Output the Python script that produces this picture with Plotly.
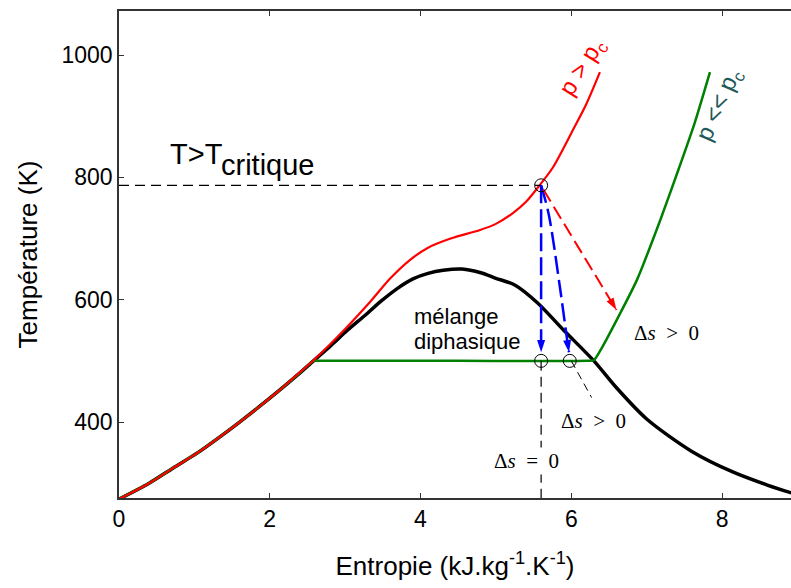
import plotly.graph_objects as go

# ---------------- data ----------------
# saturation dome (black)
s_dome = [0, 0.4, 0.72, 1.045, 1.307, 1.6, 1.86, 2.11, 2.35, 2.58, 2.81, 3.03, 3.27, 3.48,
          3.7, 3.9, 4.1, 4.3, 4.55, 4.8, 5.0, 5.25, 5.55, 5.9, 6.3, 6.6, 7.0, 7.6, 8.15, 8.6, 8.95]
T_dome = [274, 300, 325, 350, 373, 400, 425, 450, 475, 500, 525, 550, 575, 598,
          619, 634, 643, 648, 650, 644, 635, 624, 595, 550, 500, 456, 405, 352, 318, 297, 283]

# supercritical isobar p > pc (red)
s_red = [0, 0.4, 0.72, 1.045, 1.307, 1.6, 1.86, 2.11, 2.35, 2.6, 3.0, 3.3, 3.6, 3.85,
         4.1, 4.4, 4.79, 5.0, 5.23, 5.4, 5.58, 5.76, 6.02, 6.2, 6.38]
T_red = [274, 300, 325, 350, 373, 400, 425, 450, 476, 503, 552, 592, 635, 664,
         685, 700, 714, 724, 742, 760, 787, 817, 877, 920, 972]

# subcritical isobar p << pc (green)
s_grn = [0, 0.4, 0.72, 1.045, 1.307, 1.6, 1.86, 2.11, 2.35, 2.58, 2.66, 4.5, 6.22, 6.3,
         6.4, 6.65, 6.87, 7.18, 7.42, 7.64, 7.84]
T_grn = [274, 300, 325, 350, 373, 400, 425, 450, 475, 500, 500, 500, 500, 501,
         520, 578, 632, 730, 812, 890, 972]

# reference dashed lines
s_hdash = [0, 5.6]
T_hdash = [787, 787]
s_vdash = [5.6, 5.6]
T_vdash = [500, 270]
s_ddash = [6.0, 6.27]
T_ddash = [500, 440]

# expansion paths (arrows)
s_blue1 = [5.6, 5.6]
T_blue1 = [787, 514]
s_blue2 = [5.6, 5.7, 5.85, 5.95, 5.97]
T_blue2 = [787, 740, 620, 530, 514]
s_redarr = [5.63, 6.6]
T_redarr = [780, 583]

# state points
s_pts = [5.6, 5.6, 5.98]
T_pts = [787, 500, 500]

x_ticks = [0, 2, 4, 6, 8]
y_ticks = [400, 600, 800, 1000]

FONT = "Liberation Sans, Arial, sans-serif"
MATH = "Liberation Serif, Times New Roman, serif"

fig = go.Figure()

fig.add_trace(go.Scatter(x=s_dome, y=T_dome, mode="lines",
                         line=dict(color="black", width=3.5, shape="spline", smoothing=0.8)))
fig.add_trace(go.Scatter(x=s_grn, y=T_grn, mode="lines",
                         line=dict(color="#008000", width=2.5, shape="spline", smoothing=0.6)))
fig.add_trace(go.Scatter(x=s_red, y=T_red, mode="lines",
                         line=dict(color="#ff0000", width=2.2, shape="spline", smoothing=0.8)))

fig.add_trace(go.Scatter(x=s_hdash, y=T_hdash, mode="lines",
                         line=dict(color="black", width=1.2, dash="10px,6px")))
fig.add_trace(go.Scatter(x=s_vdash, y=T_vdash, mode="lines",
                         line=dict(color="black", width=1.2, dash="10px,6px")))
fig.add_trace(go.Scatter(x=s_ddash, y=T_ddash, mode="lines",
                         line=dict(color="black", width=1, dash="8px,5px")))


def arrow_trace(xs, ys, color, width, dash):
    n = len(xs)
    return go.Scatter(x=xs, y=ys, mode="lines+markers",
                      line=dict(color=color, width=width, dash=dash, shape="spline"),
                      marker=dict(symbol="arrow", angleref="previous", color=color,
                                  size=[0] * (n - 1) + [13],
                                  opacity=[0] * (n - 1) + [1],
                                  line=dict(width=0)))


fig.add_trace(arrow_trace(s_blue1, T_blue1, "#0000ff", 2.5, "18px,6px"))
fig.add_trace(arrow_trace(s_blue2, T_blue2, "#0000ff", 2.5, "18px,6px"))
fig.add_trace(arrow_trace(s_redarr, T_redarr, "#ff0000", 2, "14px,6px"))

fig.add_trace(go.Scatter(x=s_pts, y=T_pts, mode="markers",
                         marker=dict(symbol="circle-open", size=13, color="black",
                                     line=dict(width=1, color="black"))))

ann = []
ann.append(dict(x=0.65, y=838, text="T>T", xanchor="left", yanchor="middle",
                font=dict(size=29, family=FONT, color="black")))
ann.append(dict(x=1.33, y=821, text="critique", xanchor="left", yanchor="middle",
                font=dict(size=29, family=FONT, color="black")))
ann.append(dict(x=3.887, y=572, text="mélange", xanchor="left", yanchor="middle",
                font=dict(size=22, family=FONT, color="black")))
ann.append(dict(x=3.887, y=531, text="diphasique", xanchor="left", yanchor="middle",
                font=dict(size=22, family=FONT, color="black")))
ann.append(dict(x=7.257, y=546, text="Δ<i>s</i>&nbsp;&nbsp;>&nbsp;&nbsp;0",
                xanchor="center", yanchor="middle",
                font=dict(size=21, family=MATH, color="black")))
ann.append(dict(x=6.30, y=401, text="Δ<i>s</i>&nbsp;&nbsp;>&nbsp;&nbsp;0",
                xanchor="center", yanchor="middle",
                font=dict(size=21, family=MATH, color="black")))
ann.append(dict(x=5.40, y=337, text="Δ<i>s</i>&nbsp;&nbsp;=&nbsp;&nbsp;0",
                xanchor="center", yanchor="middle", bgcolor="white",
                font=dict(size=21, family=MATH, color="black")))
ann.append(dict(x=6.157, y=979, text="p > p<sub>c</sub>", textangle=-58,
                xanchor="center", yanchor="middle",
                font=dict(size=24, family=FONT, color="#ff0000")))
ann.append(dict(x=7.97, y=917, text="p << p<sub>c</sub>", textangle=-66,
                xanchor="center", yanchor="middle",
                font=dict(size=24, family=FONT, color="#1f5a5a")))
for a in ann:
    a.update(xref="x", yref="y", showarrow=False)

fig.update_layout(
    width=791, height=588,
    margin=dict(l=119, r=0, t=11, b=90),
    paper_bgcolor="white", plot_bgcolor="white",
    showlegend=False,
    annotations=ann,
    font=dict(family=FONT, color="black"),
)
fig.update_xaxes(range=[0, 8.915], tickvals=x_ticks, ticks="inside", ticklen=5,
                 tickcolor="#333", showline=True, linecolor="#333", linewidth=1.5,
                 mirror="ticks", showgrid=False, zeroline=False,
                 tickfont=dict(size=23, family=FONT, color="black"),
                 title=dict(text="Entropie (kJ.kg<sup>-1</sup>.K<sup>-1</sup>)",
                            font=dict(size=26, family=FONT, color="black"), standoff=25))
fig.update_yaxes(range=[275.8, 1072], tickvals=y_ticks, ticks="inside", ticklen=5,
                 tickcolor="#333", showline=True, linecolor="#333", linewidth=1.5,
                 mirror=False, showgrid=False, zeroline=False,
                 tickfont=dict(size=23, family=FONT, color="black"),
                 title=dict(text="Température (K)",
                            font=dict(size=26, family=FONT, color="black"), standoff=16))

fig.write_html("out.html")
